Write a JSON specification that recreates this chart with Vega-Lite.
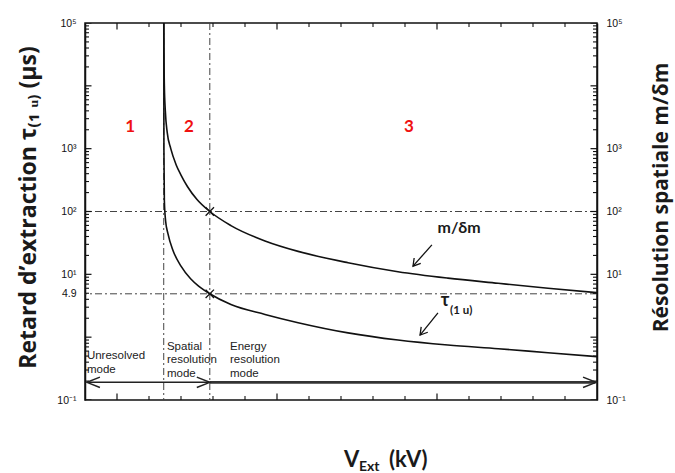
{
  "$schema": "https://vega.github.io/schema/vega-lite/v6.json",
  "width": 512,
  "height": 377,
  "autosize": {"type": "none"},
  "padding": {"left": 85, "top": 23, "right": 78, "bottom": 73},
  "background": "white",
  "config": {
    "view": {"stroke": "#111", "strokeWidth": 1.5},
    "axis": {
      "domainColor": "#111", "domainWidth": 1.5, "ticks": false,
      "labelFont": "Liberation Sans", "labelColor": "#111", "labelFontSize": 10.5,
      "labelOverlap": false, "labelFlush": false, "labelBound": false, "grid": false,
      "titleFont": "Open Sans", "titleFontWeight": "bold", "titleColor": "#1a1a1a"
    }
  },
  "datasets": {
    "ymajor": [{"v": 0.1}, {"v": 1}, {"v": 10}, {"v": 100}, {"v": 1000}, {"v": 10000}, {"v": 100000}],
    "yminor": [{"v":0.2},{"v":0.3},{"v":0.4},{"v":0.5},{"v":0.6},{"v":0.7},{"v":0.8},{"v":0.9},{"v":2},{"v":3},{"v":4},{"v":5},{"v":6},{"v":7},{"v":8},{"v":9},{"v":20},{"v":30},{"v":40},{"v":50},{"v":60},{"v":70},{"v":80},{"v":90},{"v":200},{"v":300},{"v":400},{"v":500},{"v":600},{"v":700},{"v":800},{"v":900},{"v":2000},{"v":3000},{"v":4000},{"v":5000},{"v":6000},{"v":7000},{"v":8000},{"v":9000},{"v":20000},{"v":30000},{"v":40000},{"v":50000},{"v":60000},{"v":70000},{"v":80000},{"v":90000}],
    "xmajor": [{"v": 2.5}, {"v": 3.0}, {"v": 3.5}],
    "xminor": [{"v":2.6},{"v":2.7},{"v":2.8},{"v":2.9},{"v":3.1},{"v":3.2},{"v":3.3},{"v":3.4},{"v":3.6},{"v":3.7},{"v":3.8},{"v":3.9}]
  },
  "resolve": {"axis": {"y": "independent"}},
  "layer": [
    {
      "data": {"values": [{"y": 100}, {"y": 4.9}]},
      "mark": {"type": "rule", "color": "#444", "strokeWidth": 1, "strokeDash": [7, 3, 2, 3]},
      "encoding": {
        "y": {"field": "y", "type": "quantitative",
          "scale": {"type": "log", "domain": [0.1, 100000], "nice": false},
          "axis": {
            "orient": "right",
            "values": [0.1, 10, 100, 1000, 100000],
            "labelExpr": "datum.value===0.1?'10⁻¹':datum.value===10?'10¹':datum.value===100?'10²':datum.value===1000?'10³':datum.value===100000?'10⁵':''",
            "labelPadding": 9,
            "title": "Résolution spatiale m/δm", "titleFontSize": 21,
            "titleAngle": -90, "titleAlign": "center", "titleBaseline": "middle",
            "titleX": 64, "titleY": 174
          }
        }
      }
    },
    {
      "data": {"values": [{"x": 2.646}, {"x": 2.79}]},
      "mark": {"type": "rule", "color": "#444", "strokeWidth": 1, "strokeDash": [7, 3, 2, 3]},
      "encoding": {
        "x": {"field": "x", "type": "quantitative",
          "scale": {"domain": [2.4, 4.0], "nice": false, "zero": false},
          "axis": {
            "orient": "bottom",
            "values": [2.5, 2.646, 2.79, 3.0, 3.5, 4.0],
            "labelExpr": "datum.value===2.5?'2.5':datum.value===2.646?'2.646':datum.value===2.79?'2.79':datum.value===3?'3.0':datum.value===3.5?'3.5':datum.value===4?'4.0':''",
            "labelPadding": 10, "title": null
          }
        }
      }
    },
    {
      "data": {"name": "ymajor"},
      "mark": {"type": "tick", "orient": "horizontal", "size": 13, "thickness": 1.2, "color": "#111", "opacity": 1, "clip": true},
      "encoding": {
        "y": {"field": "v", "type": "quantitative", "scale": {"type": "log", "domain": [0.1, 100000], "nice": false}, "axis": null},
        "x": {"datum": 2.4, "type": "quantitative", "scale": {"domain": [2.4, 4.0], "nice": false, "zero": false}, "axis": null}
      }
    },
    {
      "data": {"name": "yminor"},
      "mark": {"type": "tick", "orient": "horizontal", "size": 8, "thickness": 1.1, "color": "#111", "opacity": 1, "clip": true},
      "encoding": {
        "y": {"field": "v", "type": "quantitative", "scale": {"type": "log", "domain": [0.1, 100000], "nice": false}, "axis": null},
        "x": {"datum": 2.4, "type": "quantitative", "scale": {"domain": [2.4, 4.0], "nice": false, "zero": false}, "axis": null}
      }
    },
    {
      "data": {"name": "ymajor"},
      "mark": {"type": "tick", "orient": "horizontal", "size": 13, "thickness": 1.2, "color": "#111", "opacity": 1, "clip": true},
      "encoding": {
        "y": {"field": "v", "type": "quantitative", "scale": {"type": "log", "domain": [0.1, 100000], "nice": false}, "axis": null},
        "x": {"datum": 4.0, "type": "quantitative", "scale": {"domain": [2.4, 4.0], "nice": false, "zero": false}, "axis": null}
      }
    },
    {
      "data": {"name": "yminor"},
      "mark": {"type": "tick", "orient": "horizontal", "size": 8, "thickness": 1.1, "color": "#111", "opacity": 1, "clip": true},
      "encoding": {
        "y": {"field": "v", "type": "quantitative", "scale": {"type": "log", "domain": [0.1, 100000], "nice": false}, "axis": null},
        "x": {"datum": 4.0, "type": "quantitative", "scale": {"domain": [2.4, 4.0], "nice": false, "zero": false}, "axis": null}
      }
    },
    {
      "data": {"name": "xmajor"},
      "mark": {"type": "tick", "orient": "vertical", "size": 13, "thickness": 1.2, "color": "#111", "opacity": 1, "clip": true},
      "encoding": {
        "x": {"field": "v", "type": "quantitative", "scale": {"domain": [2.4, 4.0], "nice": false, "zero": false}, "axis": null},
        "y": {"datum": 0.1, "type": "quantitative", "scale": {"type": "log", "domain": [0.1, 100000], "nice": false}, "axis": null}
      }
    },
    {
      "data": {"name": "xminor"},
      "mark": {"type": "tick", "orient": "vertical", "size": 8, "thickness": 1.1, "color": "#111", "opacity": 1, "clip": true},
      "encoding": {
        "x": {"field": "v", "type": "quantitative", "scale": {"domain": [2.4, 4.0], "nice": false, "zero": false}, "axis": null},
        "y": {"datum": 0.1, "type": "quantitative", "scale": {"type": "log", "domain": [0.1, 100000], "nice": false}, "axis": null}
      }
    },
    {
      "data": {"name": "xmajor"},
      "mark": {"type": "tick", "orient": "vertical", "size": 13, "thickness": 1.2, "color": "#111", "opacity": 1, "clip": true},
      "encoding": {
        "x": {"field": "v", "type": "quantitative", "scale": {"domain": [2.4, 4.0], "nice": false, "zero": false}, "axis": null},
        "y": {"datum": 100000, "type": "quantitative", "scale": {"type": "log", "domain": [0.1, 100000], "nice": false}, "axis": null}
      }
    },
    {
      "data": {"name": "xminor"},
      "mark": {"type": "tick", "orient": "vertical", "size": 8, "thickness": 1.1, "color": "#111", "opacity": 1, "clip": true},
      "encoding": {
        "x": {"field": "v", "type": "quantitative", "scale": {"domain": [2.4, 4.0], "nice": false, "zero": false}, "axis": null},
        "y": {"datum": 100000, "type": "quantitative", "scale": {"type": "log", "domain": [0.1, 100000], "nice": false}, "axis": null}
      }
    },
    {
      "data": {"values": [
        {"s": "mdm", "x": 2.6462, "y": 100000},
        {"s": "mdm", "x": 2.6468, "y": 30000},
        {"s": "mdm", "x": 2.648, "y": 10000},
        {"s": "mdm", "x": 2.651, "y": 4000},
        {"s": "mdm", "x": 2.657, "y": 1800},
        {"s": "mdm", "x": 2.668, "y": 1000},
        {"s": "mdm", "x": 2.685, "y": 550},
        {"s": "mdm", "x": 2.70, "y": 380},
        {"s": "mdm", "x": 2.72, "y": 250},
        {"s": "mdm", "x": 2.75, "y": 155},
        {"s": "mdm", "x": 2.79, "y": 100},
        {"s": "mdm", "x": 2.856, "y": 59.7},
        {"s": "mdm", "x": 2.9625, "y": 34},
        {"s": "mdm", "x": 3.066, "y": 23.2},
        {"s": "mdm", "x": 3.222, "y": 15.3},
        {"s": "mdm", "x": 3.378, "y": 11},
        {"s": "mdm", "x": 3.534, "y": 8.7},
        {"s": "mdm", "x": 3.691, "y": 7.2},
        {"s": "mdm", "x": 3.847, "y": 6.0},
        {"s": "mdm", "x": 4.0, "y": 5.1},
        {"s": "tau", "x": 2.6462, "y": 100000},
        {"s": "tau", "x": 2.6466, "y": 1000},
        {"s": "tau", "x": 2.648, "y": 150},
        {"s": "tau", "x": 2.652, "y": 70},
        {"s": "tau", "x": 2.659, "y": 45},
        {"s": "tau", "x": 2.675, "y": 24},
        {"s": "tau", "x": 2.70, "y": 13.5},
        {"s": "tau", "x": 2.73, "y": 8.5},
        {"s": "tau", "x": 2.755, "y": 6.5},
        {"s": "tau", "x": 2.79, "y": 4.9},
        {"s": "tau", "x": 2.856, "y": 3.3},
        {"s": "tau", "x": 2.9625, "y": 2.3},
        {"s": "tau", "x": 3.066, "y": 1.7},
        {"s": "tau", "x": 3.222, "y": 1.17},
        {"s": "tau", "x": 3.378, "y": 0.9},
        {"s": "tau", "x": 3.534, "y": 0.75},
        {"s": "tau", "x": 3.691, "y": 0.655},
        {"s": "tau", "x": 3.847, "y": 0.565},
        {"s": "tau", "x": 4.0, "y": 0.49}
      ]},
      "mark": {"type": "line", "color": "#111", "strokeWidth": 1.6, "interpolate": "monotone"},
      "encoding": {
        "x": {"field": "x", "type": "quantitative", "scale": {"domain": [2.4, 4.0], "nice": false, "zero": false}, "axis": null},
        "y": {"field": "y", "type": "quantitative",
          "scale": {"type": "log", "domain": [0.1, 100000], "nice": false},
          "axis": {
            "orient": "left",
            "values": [0.1, 4.9, 10, 100, 1000, 100000],
            "labelExpr": "datum.value===0.1?'10⁻¹':datum.value===4.9?'4.9':datum.value===10?'10¹':datum.value===100?'10²':datum.value===1000?'10³':datum.value===100000?'10⁵':''",
            "labelPadding": 9,
            "title": "Retard d’extraction τ₍₁ ᵤ₎ (µs)", "titleFontSize": 23,
            "titleAngle": -90, "titleAlign": "center", "titleBaseline": "middle",
            "titleX": -57, "titleY": 184
          }
        },
        "detail": {"field": "s"}
      }
    },
    {
      "data": {"values": [{"x": 2.79, "y": 100}, {"x": 2.79, "y": 4.9}]},
      "mark": {"type": "point", "shape": "M -1 -1 L 1 1 M -1 1 L 1 -1", "size": 70, "filled": false, "stroke": "#111", "strokeWidth": 1.3, "opacity": 1},
      "encoding": {
        "x": {"field": "x", "type": "quantitative", "scale": {"domain": [2.4, 4.0], "nice": false, "zero": false}, "axis": null},
        "y": {"field": "y", "type": "quantitative", "scale": {"type": "log", "domain": [0.1, 100000], "nice": false}, "axis": null}
      }
    },
    {
      "data": {"values": [{"x": 2.406, "x2": 2.79}]},
      "mark": {"type": "rule", "color": "#222", "strokeWidth": 1.5},
      "encoding": {
        "x": {"field": "x", "type": "quantitative", "scale": {"domain": [2.4, 4.0], "nice": false, "zero": false}, "axis": null},
        "x2": {"field": "x2"},
        "y": {"datum": 0.191, "type": "quantitative", "scale": {"type": "log", "domain": [0.1, 100000], "nice": false}, "axis": null}
      }
    },
    {
      "data": {"values": [{"x": 2.79, "x2": 3.995}]},
      "mark": {"type": "rule", "color": "#333", "strokeWidth": 2.6},
      "encoding": {
        "x": {"field": "x", "type": "quantitative", "scale": {"domain": [2.4, 4.0], "nice": false, "zero": false}, "axis": null},
        "x2": {"field": "x2"},
        "y": {"datum": 0.191, "type": "quantitative", "scale": {"type": "log", "domain": [0.1, 100000], "nice": false}, "axis": null}
      }
    },
    {
      "data": {"values": [{"x": 2.406}]},
      "mark": {"type": "point", "shape": "M 1 -0.4 L 0 0 L 1 0.4", "size": 676, "filled": false, "stroke": "#222", "strokeWidth": 1.5, "opacity": 1},
      "encoding": {
        "x": {"field": "x", "type": "quantitative", "scale": {"domain": [2.4, 4.0], "nice": false, "zero": false}, "axis": null},
        "y": {"datum": 0.191, "type": "quantitative", "scale": {"type": "log", "domain": [0.1, 100000], "nice": false}, "axis": null}
      }
    },
    {
      "data": {"values": [{"x": 2.79}, {"x": 3.997}]},
      "mark": {"type": "point", "shape": "M -1 -0.4 L 0 0 L -1 0.4", "size": 676, "filled": false, "stroke": "#222", "strokeWidth": 1.5, "opacity": 1},
      "encoding": {
        "x": {"field": "x", "type": "quantitative", "scale": {"domain": [2.4, 4.0], "nice": false, "zero": false}, "axis": null},
        "y": {"datum": 0.191, "type": "quantitative", "scale": {"type": "log", "domain": [0.1, 100000], "nice": false}, "axis": null}
      }
    },
    {
      "data": {"values": [
        {"x": 3.484, "y": 29.4, "x2": 3.425, "y2": 13.5},
        {"x": 3.503, "y": 2.43, "x2": 3.447, "y2": 1.08}
      ]},
      "mark": {"type": "rule", "color": "#111", "strokeWidth": 1.3},
      "encoding": {
        "x": {"field": "x", "type": "quantitative", "scale": {"domain": [2.4, 4.0], "nice": false, "zero": false}, "axis": null},
        "x2": {"field": "x2"},
        "y": {"field": "y", "type": "quantitative", "scale": {"type": "log", "domain": [0.1, 100000], "nice": false}, "axis": null},
        "y2": {"field": "y2"}
      }
    },
    {
      "data": {"values": [{"x": 3.425, "y": 13.5}, {"x": 3.447, "y": 1.08}]},
      "mark": {"type": "point", "shape": "M -1 -0.6 L 0 0 L -1 0.6", "size": 200, "angle": 129, "filled": false, "stroke": "#111", "strokeWidth": 1.3, "opacity": 1},
      "encoding": {
        "x": {"field": "x", "type": "quantitative", "scale": {"domain": [2.4, 4.0], "nice": false, "zero": false}, "axis": null},
        "y": {"field": "y", "type": "quantitative", "scale": {"type": "log", "domain": [0.1, 100000], "nice": false}, "axis": null}
      }
    },
    {
      "data": {"values": [{"t": "1", "x": 2.541}, {"t": "2", "x": 2.725}, {"t": "3", "x": 3.4125}]},
      "mark": {"type": "text", "font": "Lato", "fontWeight": "bold", "fontSize": 17, "color": "#f01010", "align": "center", "baseline": "middle"},
      "encoding": {
        "x": {"field": "x", "type": "quantitative", "scale": {"domain": [2.4, 4.0], "nice": false, "zero": false}, "axis": null},
        "y": {"datum": 2218, "type": "quantitative", "scale": {"type": "log", "domain": [0.1, 100000], "nice": false}, "axis": null},
        "text": {"field": "t"}
      }
    },
    {
      "data": {"values": [
        {"t": "Unresolved\nmode", "x": 2.406, "y": 0.624},
        {"t": "Spatial\nresolution\nmode", "x": 2.656, "y": 0.869},
        {"t": "Energy\nresolution\nmode", "x": 2.853, "y": 0.869}
      ]},
      "mark": {"type": "text", "font": "Liberation Sans", "fontSize": 11.5, "color": "#222", "align": "left", "baseline": "top", "lineBreak": "\n", "lineHeight": 13.5},
      "encoding": {
        "x": {"field": "x", "type": "quantitative", "scale": {"domain": [2.4, 4.0], "nice": false, "zero": false}, "axis": null},
        "y": {"field": "y", "type": "quantitative", "scale": {"type": "log", "domain": [0.1, 100000], "nice": false}, "axis": null},
        "text": {"field": "t"}
      }
    },
    {
      "data": {"values": [{"t": "m/δm", "x": 3.569, "y": 54.7}]},
      "mark": {"type": "text", "font": "Lato", "fontWeight": "bold", "fontSize": 16, "color": "#1a1a1a", "align": "center", "baseline": "middle"},
      "encoding": {
        "x": {"field": "x", "type": "quantitative", "scale": {"domain": [2.4, 4.0], "nice": false, "zero": false}, "axis": null},
        "y": {"field": "y", "type": "quantitative", "scale": {"type": "log", "domain": [0.1, 100000], "nice": false}, "axis": null},
        "text": {"field": "t"}
      }
    },
    {
      "data": {"values": [{"t": "τ", "x": 3.525, "y": 3.77}]},
      "mark": {"type": "text", "font": "Lato", "fontWeight": "bold", "fontSize": 18, "color": "#1a1a1a", "align": "center", "baseline": "middle"},
      "encoding": {
        "x": {"field": "x", "type": "quantitative", "scale": {"domain": [2.4, 4.0], "nice": false, "zero": false}, "axis": null},
        "y": {"field": "y", "type": "quantitative", "scale": {"type": "log", "domain": [0.1, 100000], "nice": false}, "axis": null},
        "text": {"field": "t"}
      }
    },
    {
      "data": {"values": [{"t": "(1 u)", "x": 3.541, "y": 2.61}]},
      "mark": {"type": "text", "font": "Lato", "fontWeight": "bold", "fontSize": 11.5, "color": "#1a1a1a", "align": "left", "baseline": "middle"},
      "encoding": {
        "x": {"field": "x", "type": "quantitative", "scale": {"domain": [2.4, 4.0], "nice": false, "zero": false}, "axis": null},
        "y": {"field": "y", "type": "quantitative", "scale": {"type": "log", "domain": [0.1, 100000], "nice": false}, "axis": null},
        "text": {"field": "t"}
      }
    },
    {
      "data": {"values": [{"t": "V", "x": 3.209}, {"t": "(kV)", "x": 3.35}]},
      "mark": {"type": "text", "font": "Lato", "fontWeight": "bold", "fontSize": 22, "color": "#1a1a1a", "align": "left", "baseline": "alphabetic"},
      "encoding": {
        "x": {"field": "x", "type": "quantitative", "scale": {"domain": [2.4, 4.0], "nice": false, "zero": false}, "axis": null},
        "y": {"datum": 0.00857, "type": "quantitative", "scale": {"type": "log", "domain": [0.1, 100000], "nice": false}, "axis": null},
        "text": {"field": "t"}
      }
    },
    {
      "data": {"values": [{"t": "Ext", "x": 3.256}]},
      "mark": {"type": "text", "font": "Lato", "fontWeight": "bold", "fontSize": 14, "color": "#1a1a1a", "align": "left", "baseline": "alphabetic"},
      "encoding": {
        "x": {"field": "x", "type": "quantitative", "scale": {"domain": [2.4, 4.0], "nice": false, "zero": false}, "axis": null},
        "y": {"datum": 0.00741, "type": "quantitative", "scale": {"type": "log", "domain": [0.1, 100000], "nice": false}, "axis": null},
        "text": {"field": "t"}
      }
    }
  ]
}
